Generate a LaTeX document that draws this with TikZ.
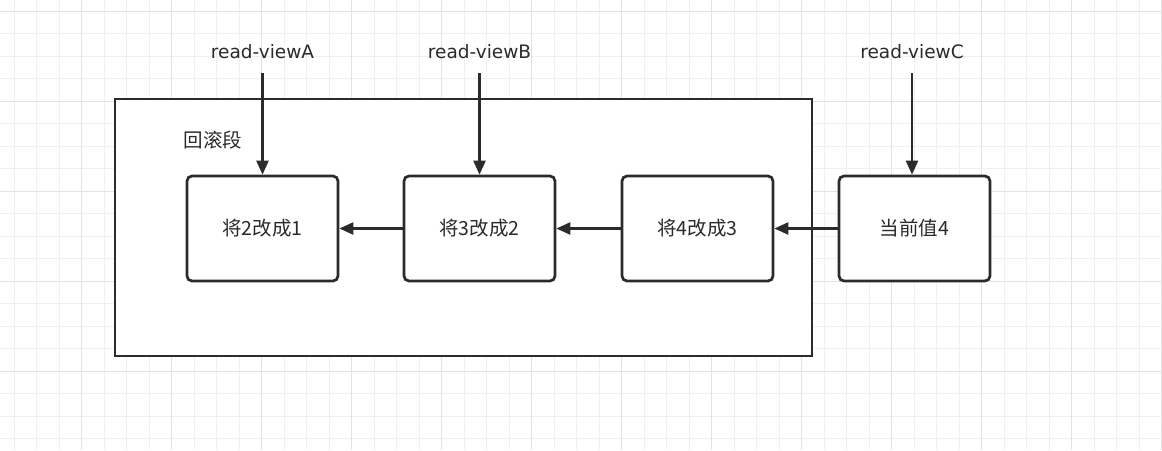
\documentclass[tikz,border=0pt]{standalone}
\usepackage{fontspec}
\setmainfont{DejaVu Sans}
\newfontfamily\cjk{Noto Sans CJK SC}
\usetikzlibrary{arrows.meta,positioning}
\definecolor{ink}{HTML}{2B2B2B}
\definecolor{gridminor}{HTML}{F0F0F0}
\definecolor{gridmajor}{HTML}{E3E3E3}

\tikzset{
  stepbox/.style={draw=ink, fill=white, line width=2.7pt, rounded corners=5pt,
    minimum width=151pt, minimum height=105pt, inner sep=0pt,
    text=ink, font=\cjk\fontsize{19.5}{23}\selectfont},
  viewlabel/.style={text=ink, inner sep=0pt, minimum height=42pt,
    font=\fontsize{18.5}{22}\selectfont},
  flow/.style={draw=ink, line width=2.3pt, -{Triangle[length=14pt,width=12pt]}},
}

\begin{document}
\begin{tikzpicture}[x=1pt, y=-1pt]
  \useasboundingbox (0,0) rectangle (1162,450);
  \fill[white] (0,0) rectangle (1162,450);

  % background grid
  \foreach \i in {0,...,51}
    \draw[gridminor, line width=1pt] ({14.2+22.5*\i},0) -- ++(0,450);
  \foreach \j in {0,...,19}
    \draw[gridminor, line width=1pt] (0,{11.3+22.5*\j}) -- ++(1162,0);
  \foreach \i in {0,...,12}
    \draw[gridmajor, line width=1pt] ({81.7+90*\i},0) -- ++(0,450);
  \foreach \j in {0,...,4}
    \draw[gridmajor, line width=1pt] (0,{11.3+90*\j}) -- ++(1162,0);

  % undo log frame
  \draw[ink, fill=white, line width=2.8pt] (115,99) rectangle (812,356);
  \node[text=ink, font=\cjk\fontsize{19.5}{23}\selectfont] (seg) at (213,140) {回滚段};

  % versions
  \node[stepbox] (v1) at (262.5,228.5) {将2改成1};
  \node[stepbox] (v2) at (479.5,228.5) {将3改成2};
  \node[stepbox] (v3) at (697.5,228.5) {将4改成3};
  \node[stepbox] (v4) at (914.5,228.5) {当前值4};

  % read views
  \node[viewlabel] (ra) at (262.5,52) {read-viewA};
  \node[viewlabel] (rb) at (479.5,52) {read-viewB};
  \node[viewlabel] (rc) at (912,52) {read-viewC};

  \draw[flow] (ra.south) -- (v1.north);
  \draw[flow] (rb.south) -- (v2.north);
  \draw[flow] (rc.south) -- (rc.south |- v4.north);

  \draw[flow] (v4.west) -- (v3.east);
  \draw[flow] (v3.west) -- (v2.east);
  \draw[flow] (v2.west) -- (v1.east);
\end{tikzpicture}
\end{document}
